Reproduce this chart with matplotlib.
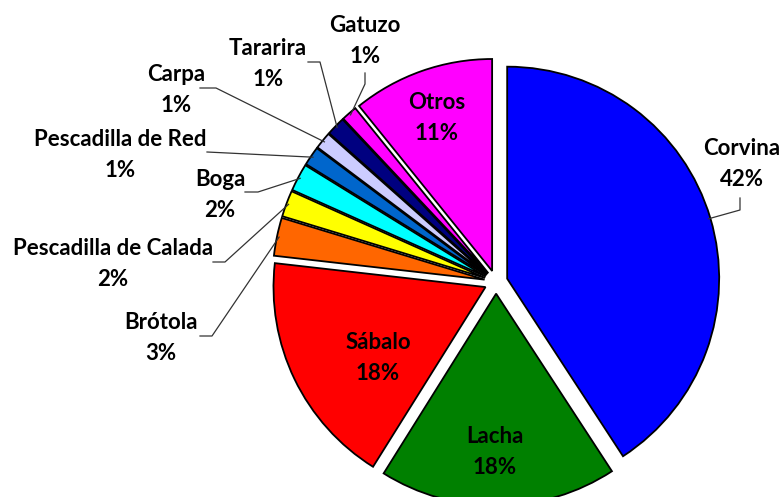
import matplotlib
matplotlib.use("Agg")
import matplotlib.pyplot as plt
import numpy as np

species = ["Corvina", "Lacha", "Sábalo", "Brótola", "Pescadilla de Calada", "Boga",
           "Pescadilla de Red", "Carpa", "Tararira", "Gatuzo", "Otros"]
shares = [40.8, 18.1, 17.9, 2.9, 2.0, 2.1, 1.45, 1.3, 1.45, 1.2, 10.8]
shown_pct = [42, 18, 18, 3, 2, 2, 1, 1, 1, 1, 11]
colors = ["#0000FF", "#008000", "#FF0000", "#FF6600", "#FFFF00", "#00FFFF",
          "#0066CC", "#CCCCFF", "#000080", "#FF00FF", "#FF00FF"]

# layout: pie centre and radius in pixels of the 781x497 picture
W, H = 781, 497
CX, CY, R = 496, 282, 212


def px(x, y):
    return (x - CX) / R, (CY - y) / R


# label centre, then leader points (pixels) running towards the slice
outside = {
    "Corvina": ((742, 164), [(740, 198), (740, 210)]),
    "Brótola": ((161, 338), [(200, 336), (212, 336)]),
    "Pescadilla de Calada": ((113, 264), [(213, 262), (225, 262)]),
    "Boga": ((220, 195), [(245, 192), (258, 192)]),
    "Pescadilla de Red": ((120, 155), [(207, 152)]),
    "Carpa": ((176, 90), [(200, 88), (216, 88)]),
    "Tararira": ((268, 64), [(308, 62), (320, 62)]),
    "Gatuzo": ((365, 41), [(365, 73), (365, 84)]),
}
inside = {"Lacha": (495, 452), "Sábalo": (378, 358), "Otros": (437, 118)}

fig = plt.figure(figsize=(W / 100, H / 100), dpi=100)
ax = fig.add_axes([0, 0, 1, 1])
wedges, _ = ax.pie(shares, colors=colors, startangle=90, counterclock=False,
                   explode=[0.055] * len(shares),
                   wedgeprops=dict(edgecolor="black", linewidth=1.3))
ax.set_xlim(-CX / R, (W - CX) / R)
ax.set_ylim(-(H - CY) / R, CY / R)
ax.set_aspect("equal")
ax.axis("off")

font = dict(family="Lato", fontweight="bold", fontsize=16, linespacing=1.55,
            ha="center", va="center")

for w, name, pct in zip(wedges, species, shown_pct):
    label = f"{name}\n{pct}%"
    if name in outside:
        (tx, ty), pts = outside[name]
        ax.text(*px(tx, ty), label, **font)
        mid = np.deg2rad((w.theta1 + w.theta2) / 2)
        cx, cy = w.center
        xs = [px(*p)[0] for p in pts] + [cx + 0.99 * np.cos(mid)]
        ys = [px(*p)[1] for p in pts] + [cy + 0.99 * np.sin(mid)]
        ax.plot(xs, ys, color="#333333", lw=0.9)
    else:
        ax.text(*px(*inside[name]), label, **font)

fig.savefig("out.png", dpi=100)
